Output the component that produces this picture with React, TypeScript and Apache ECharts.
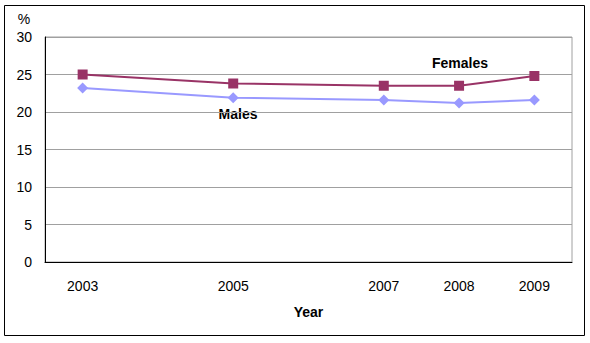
import React, { useEffect, useRef } from "react";
import * as echarts from "echarts";

const years = ["2003", "2004", "2005", "2006", "2007", "2008", "2009"];
const labelledYears = ["2003", "2005", "2007", "2008", "2009"];
const females: (number | null)[] = [25.0, null, 23.8, null, 23.5, 23.5, 24.8];
const males: (number | null)[] = [23.2, null, 21.9, null, 21.6, 21.2, 21.6];
const yTicks = { min: 0, max: 30, interval: 5 };

const FONT = "Liberation Sans, Arial, sans-serif";

export default function App() {
  const ref = useRef<HTMLDivElement>(null);
  useEffect(() => {
    document.body.style.margin = "0";
    const chart = echarts.init(ref.current!, undefined, { renderer: "svg" });
    chart.setOption({
      animation: false,
      backgroundColor: "#ffffff",
      textStyle: { fontFamily: FONT },
      grid: {
        left: 45,
        top: 37,
        right: 18,
        bottom: 81,
        show: true,
        borderColor: "#a0a0a0",
        borderWidth: 1,
      },
      xAxis: {
        type: "category",
        data: years,
        boundaryGap: true,
        axisLine: { lineStyle: { color: "#000000", width: 1 } },
        axisTick: { show: false },
        axisLabel: {
          interval: 0,
          margin: 17,
          color: "#000000",
          fontSize: 14,
          fontFamily: FONT,
          formatter: (v: string) => (labelledYears.includes(v) ? v : ""),
        },
        name: "Year",
        nameLocation: "middle",
        nameGap: 43,
        nameTextStyle: {
          color: "#000000",
          fontSize: 14,
          fontWeight: "bold",
          fontFamily: FONT,
        },
        splitLine: { show: false },
      },
      yAxis: {
        type: "value",
        min: yTicks.min,
        max: yTicks.max,
        interval: yTicks.interval,
        axisLine: { show: true, lineStyle: { color: "#000000", width: 1 } },
        axisTick: { show: false },
        axisLabel: {
          margin: 13,
          color: "#000000",
          fontSize: 14,
          fontFamily: FONT,
        },
        splitLine: { lineStyle: { color: "#a0a0a0", width: 1 } },
      },
      series: [
        {
          name: "Females",
          type: "line",
          data: females,
          connectNulls: true,
          symbol: "rect",
          symbolSize: 10,
          lineStyle: { color: "#993366", width: 2 },
          itemStyle: { color: "#993366" },
          z: 3,
        },
        {
          name: "Males",
          type: "line",
          data: males,
          connectNulls: true,
          symbol: "diamond",
          symbolSize: 11,
          lineStyle: { color: "#9999ff", width: 2 },
          itemStyle: { color: "#9999ff" },
          z: 2,
        },
      ],
      graphic: [
        {
          type: "rect",
          shape: { x: 4.5, y: 5.5, width: 580, height: 330 },
          style: { fill: "none", stroke: "#000000", lineWidth: 1 },
          z: -1,
        },
        {
          type: "text",
          x: 24,
          y: 19,
          style: {
            text: "%",
            fontSize: 14,
            fontFamily: FONT,
            fill: "#000000",
            align: "center",
            verticalAlign: "middle",
          },
        },
        {
          type: "text",
          x: 460,
          y: 63,
          style: {
            text: "Females",
            fontSize: 14,
            fontWeight: "bold",
            fontFamily: FONT,
            fill: "#000000",
            align: "center",
            verticalAlign: "middle",
          },
        },
        {
          type: "text",
          x: 238,
          y: 114,
          style: {
            text: "Males",
            fontSize: 14,
            fontWeight: "bold",
            fontFamily: FONT,
            fill: "#000000",
            align: "center",
            verticalAlign: "middle",
          },
        },
      ],
    });
    return () => chart.dispose();
  }, []);
  return (
    <div
      ref={ref}
      style={{ position: "fixed", left: 0, top: 0, width: 590, height: 343 }}
    />
  );
}
